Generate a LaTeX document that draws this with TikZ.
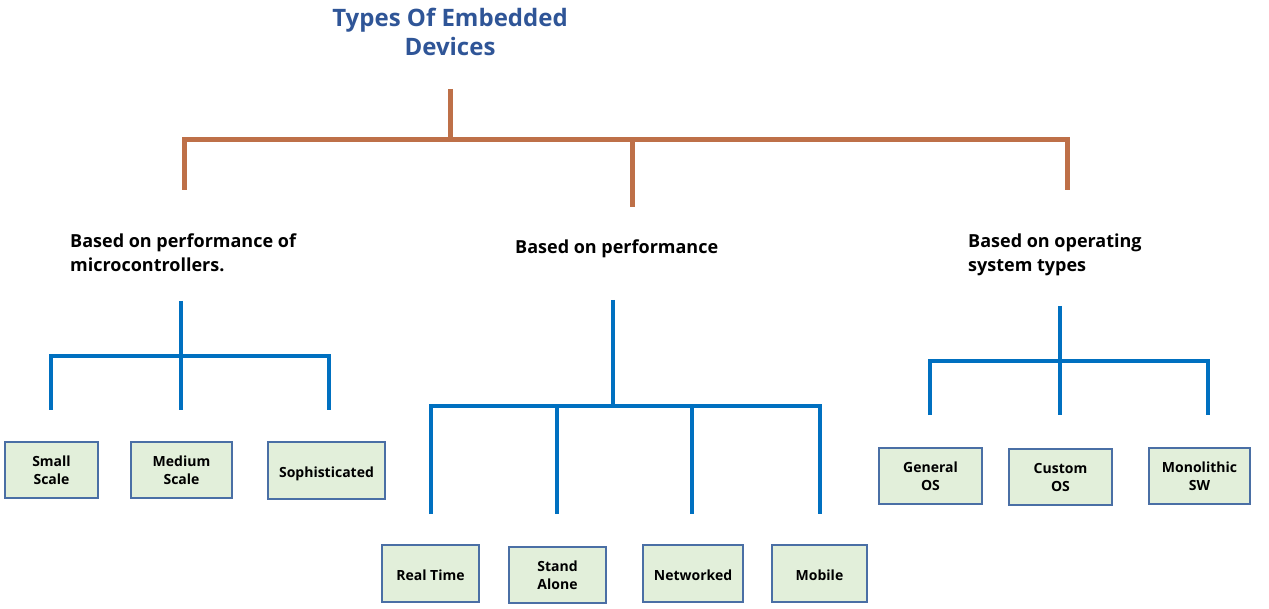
\documentclass[tikz,border=0pt]{standalone}
\usepackage{fontspec}
\setmainfont{Open Sans}
\definecolor{titleblue}{RGB}{47,85,151}
\definecolor{brn}{RGB}{190,112,72}
\definecolor{lblue}{RGB}{0,112,192}
\definecolor{boxfill}{RGB}{226,239,218}
\definecolor{boxline}{RGB}{74,111,165}
\tikzset{
  brline/.style={draw=brn, line width=5pt},
  blline/.style={draw=lblue, line width=4.5pt},
  leaf/.style={draw=boxline, line width=1.2pt, fill=boxfill, font=\bfseries\fontsize{14}{18}\selectfont, align=center, inner sep=0pt},
  oneline/.style={text height=15pt, text depth=2pt},
  lbl/.style={font=\bfseries\fontsize{18}{24}\selectfont, align=left, anchor=north west, inner sep=0pt},
}
\begin{document}
\begin{tikzpicture}[x=1pt,y=-1pt]
\useasboundingbox (0,0) rectangle (1269,609);
% title
\node[font=\bfseries\fontsize{24}{29}\selectfont, text=titleblue, align=center] (title) at (450,31.5) {Types Of Embedded\\Devices};
% level 1 labels
\node[lbl] (L1) at (70,234) {Based on performance of\\microcontrollers.};
\node[lbl] (L2) at (515,240) {Based on performance};
\node[lbl] (L3) at (968,234) {Based on operating\\system types};
% top tree coordinates
\coordinate (t0) at (450,89);
\coordinate (tj) at (450,140);
\coordinate (a1) at (184,190);
\coordinate (a2) at (632,207);
\coordinate (a3) at (1067,190);
\draw[brline] (t0) -- (tj);
\draw[brline] (a1) |- (a3 |- tj) -- (a3);
\draw[brline] (a2 |- tj) -- (a2);
% boxes group 1
\node[leaf, minimum width=93pt, minimum height=56pt] (b11) at (51.5,470) {Small\\Scale};
\node[leaf, minimum width=101pt, minimum height=56pt] (b12) at (181.5,470) {Medium\\Scale};
\node[leaf, oneline, minimum width=117pt, minimum height=57pt] (b13) at (326.5,470.5) {Sophisticated};
% tree 1
\coordinate (p1) at (181,301);
\coordinate (j1) at (181,356);
\coordinate (e11) at (51,410);
\coordinate (e12) at (181,410);
\coordinate (e13) at (329,410);
\draw[blline] (p1) -- (e12);
\draw[blline] (e11) |- (e13 |- j1) -- (e13);
% boxes group 2
\node[leaf, oneline, minimum width=97pt, minimum height=57pt] (b21) at (430.5,573.5) {Real Time};
\node[leaf, minimum width=97pt, minimum height=56pt] (b22) at (557.5,575) {Stand\\Alone};
\node[leaf, oneline, minimum width=100pt, minimum height=57pt] (b23) at (693,573.5) {Networked};
\node[leaf, oneline, minimum width=95pt, minimum height=57pt] (b24) at (819.5,573.5) {Mobile};
% tree 2
\coordinate (p2) at (613,300);
\coordinate (j2) at (613,406);
\coordinate (e21) at (431,514);
\coordinate (e22) at (557,514);
\coordinate (e23) at (692,514);
\coordinate (e24) at (820,514);
\draw[blline] (p2) -- (j2);
\draw[blline] (e21) |- (e24 |- j2) -- (e24);
\draw[blline] (e22 |- j2) -- (e22);
\draw[blline] (e23 |- j2) -- (e23);
% boxes group 3
\node[leaf, minimum width=103pt, minimum height=56pt] (b31) at (930.5,476) {General\\OS};
\node[leaf, minimum width=103pt, minimum height=56pt] (b32) at (1060.5,477) {Custom\\OS};
\node[leaf, minimum width=101pt, minimum height=56pt] (b33) at (1199.5,476) {Monolithic\\SW};
% tree 3
\coordinate (p3) at (1060,306);
\coordinate (j3) at (1060,361);
\coordinate (e31) at (930,415);
\coordinate (e32) at (1060,415);
\coordinate (e33) at (1208,415);
\draw[blline] (p3) -- (e32);
\draw[blline] (e31) |- (e33 |- j3) -- (e33);
\end{tikzpicture}
\end{document}
